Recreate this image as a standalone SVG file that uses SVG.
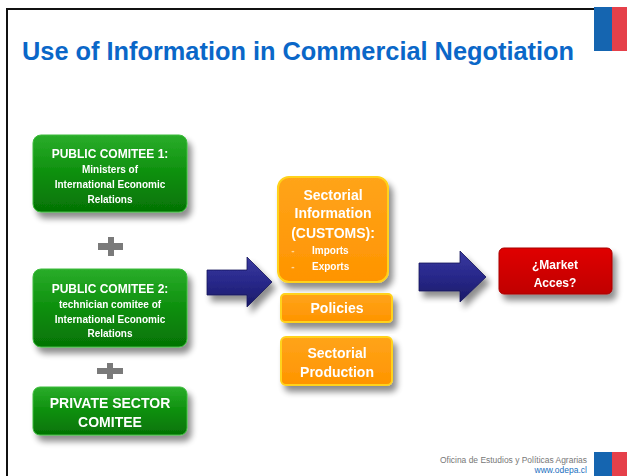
<svg xmlns="http://www.w3.org/2000/svg" width="627" height="476" viewBox="0 0 627 476">
<defs>
<linearGradient id="gGreen" x1="0" y1="0" x2="0" y2="1">
<stop offset="0" stop-color="#2aad2a"/><stop offset="0.5" stop-color="#0d8f0d"/><stop offset="1" stop-color="#057305"/>
</linearGradient>
<linearGradient id="gOrange" x1="0" y1="0" x2="0" y2="1">
<stop offset="0" stop-color="#ffa41a"/><stop offset="1" stop-color="#ff9400"/>
</linearGradient>
<linearGradient id="gRed" x1="0" y1="0" x2="0" y2="1">
<stop offset="0" stop-color="#e00000"/><stop offset="1" stop-color="#c00000"/>
</linearGradient>
<linearGradient id="gArrow" x1="0" y1="0" x2="0" y2="1">
<stop offset="0" stop-color="#3a3aa0"/><stop offset="0.5" stop-color="#28288a"/><stop offset="1" stop-color="#1a1a66"/>
</linearGradient>
<filter id="sh" x="-20%" y="-20%" width="150%" height="160%">
<feGaussianBlur in="SourceAlpha" stdDeviation="3"/>
<feOffset dx="4" dy="6" result="b"/>
<feComponentTransfer><feFuncA type="linear" slope="0.45"/></feComponentTransfer>
<feMerge><feMergeNode/><feMergeNode in="SourceGraphic"/></feMerge>
</filter>
<style>
.g{fill:url(#gGreen);stroke:#3cbc3c;stroke-width:1}
.o{fill:url(#gOrange);stroke:#ffd21a;stroke-width:2}
.r{fill:url(#gRed);stroke:#a80000;stroke-width:1}
text{font-family:"Liberation Sans",Arial,sans-serif;font-weight:bold;fill:#fff;text-anchor:middle}
.h{font-size:12px}
.s{font-size:10px}
.m{font-size:14px}
.b{fill:#ffd69a}
.pl{fill:#7a7a7a}
.ar{fill:url(#gArrow);stroke:#14145a;stroke-width:0.8}
</style>
</defs>
<rect width="627" height="476" fill="#fff"/>
<g id="frame">
<line x1="7" y1="9" x2="595" y2="9" stroke="#111" stroke-width="2"/>
<line x1="7" y1="8" x2="7" y2="476" stroke="#111" stroke-width="2"/>
<rect x="594" y="7" width="18" height="44" fill="#1565b0"/>
<rect x="612" y="7" width="15" height="44" fill="#e5404a"/>
<rect x="594" y="452" width="18" height="24" fill="#1565b0"/>
<rect x="612" y="452" width="15" height="24" fill="#e5404a"/>
</g>
<g id="title">
<text x="22" y="60" style="font-size:25px;fill:#0a67c8;text-anchor:start" textLength="552" lengthAdjust="spacingAndGlyphs">Use of Information in Commercial Negotiation</text>
</g>
<g id="public-comitee-1" filter="url(#sh)">
<rect class="g" x="33" y="135" width="154" height="77" rx="8"/>
<text class="h" x="110" y="158">PUBLIC COMITEE 1:</text>
<text class="s" x="110" y="173">Ministers of</text>
<text class="s" x="110" y="188">International Economic</text>
<text class="s" x="110" y="203">Relations</text>
</g>
<g id="public-comitee-2" filter="url(#sh)">
<rect class="g" x="33" y="269" width="154" height="78" rx="8"/>
<text class="h" x="110" y="293">PUBLIC COMITEE 2:</text>
<text class="s" x="110" y="308">technician comitee of</text>
<text class="s" x="110" y="323">International Economic</text>
<text class="s" x="110" y="337">Relations</text>
</g>
<g id="private-sector-comitee" filter="url(#sh)">
<rect class="g" x="33" y="387" width="154" height="48" rx="7"/>
<text class="m" x="110" y="408">PRIVATE SECTOR</text>
<text class="m" x="110" y="427">COMITEE</text>
</g>
<g id="sectorial-information" filter="url(#sh)">
<rect class="o" x="278" y="177" width="110" height="105" rx="11"/>
<text class="m" x="333" y="200">Sectorial</text>
<text class="m" x="333" y="218">Information</text>
<text class="m" x="333" y="238">(CUSTOMS):</text>
<text class="s b" x="293" y="254">-</text>
<text class="s" x="312" y="254" style="text-anchor:start">Imports</text>
<text class="s b" x="293" y="270">-</text>
<text class="s" x="312" y="270" style="text-anchor:start">Exports</text>
</g>
<g id="policies" filter="url(#sh)">
<rect class="o" x="281" y="294" width="111" height="28" rx="4"/>
<text class="m" x="337" y="313">Policies</text>
</g>
<g id="sectorial-production" filter="url(#sh)">
<rect class="o" x="281" y="337" width="111" height="48" rx="5"/>
<text class="m" x="337" y="358">Sectorial</text>
<text class="m" x="337" y="377">Production</text>
</g>
<g id="market-acces" filter="url(#sh)">
<rect class="r" x="499" y="248" width="113" height="46" rx="5"/>
<text class="h" x="555" y="269">¿Market</text>
<text class="h" x="555" y="287">Acces?</text>
</g>
<g id="connectors">
<path class="pl" d="M108,237h6v6h9v7h-9v6h-6v-6h-10v-7h10z"/>
<path class="pl" d="M107,363h6v5h10v6h-10v5h-6v-5h-10v-6h10z"/>
<g filter="url(#sh)">
<polygon class="ar" points="207,270 247,270 247,257 272,282 247,307 247,295 207,295"/>
<polygon class="ar" points="419,263 460,263 460,251 486,277 460,302 460,291 419,291"/>
</g>
</g>
<g id="footer">
<text x="587" y="463" style="font-size:8.5px;font-weight:normal;fill:#777;text-anchor:end" textLength="147" lengthAdjust="spacingAndGlyphs">Oficina de Estudios y Políticas Agrarias</text>
<text x="587" y="473" style="font-size:8.5px;font-weight:normal;fill:#1a6fc0;text-anchor:end">www.odepa.cl</text>
</g>
</svg>
